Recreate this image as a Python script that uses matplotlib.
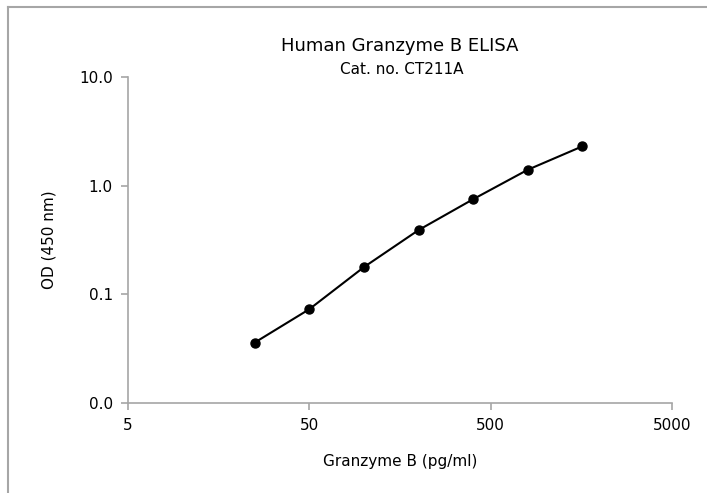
import matplotlib.pyplot as plt
from matplotlib.lines import Line2D
from matplotlib.ticker import FixedLocator, FixedFormatter, NullLocator

# standard curve values
conc = [25, 50, 100, 200, 400, 800, 1600]
od = [0.036, 0.073, 0.178, 0.39, 0.75, 1.40, 2.30]

xticks = [5, 50, 500, 5000]
xlabels = ['5', '50', '500', '5000']
yticks = [0.01, 0.1, 1, 10]
ylabels = ['0.0', '0.1', '1.0', '10.0']

plt.rcParams['font.family'] = ['DejaVu Sans']
grey = '#a6a6a6'

fig = plt.figure(figsize=(7.07, 4.93), dpi=100)
ax = fig.add_axes([128/707, 1-403/493, (672-128)/707, (403-77)/493])

ax.plot(conc, od, color='black', lw=1.5, marker='o', ms=6.5)

ax.set_xscale('log')
ax.set_yscale('log')
ax.set_xlim(5, 5000)
ax.set_ylim(0.01, 10)
ax.xaxis.set_major_locator(FixedLocator(xticks))
ax.xaxis.set_major_formatter(FixedFormatter(xlabels))
ax.yaxis.set_major_locator(FixedLocator(yticks))
ax.yaxis.set_major_formatter(FixedFormatter(ylabels))
ax.xaxis.set_minor_locator(NullLocator())
ax.yaxis.set_minor_locator(NullLocator())

for s in ['top', 'right']:
    ax.spines[s].set_visible(False)
for s in ['left', 'bottom']:
    ax.spines[s].set_color(grey)
    ax.spines[s].set_linewidth(1.2)
ax.tick_params(axis='both', direction='out', length=5, width=1.2, color=grey,
               labelsize=11, labelcolor='black', pad=6)

ax.set_xlabel('Granzyme B (pg/ml)', fontsize=11, labelpad=15)
ax.set_ylabel('OD (450 nm)', fontsize=11, labelpad=16)

fig.text(400/707, 1-46/493, 'Human Granzyme B ELISA', ha='center', va='center', fontsize=13)
fig.text(402/707, 1-70/493, 'Cat. no. CT211A', ha='center', va='center', fontsize=11)

# chart frame (left and top edges visible)
fig.add_artist(Line2D([8/707, 8/707], [0, 1-7/493], transform=fig.transFigure, color=grey, lw=1.5))
fig.add_artist(Line2D([8/707, 1], [1-7/493, 1-7/493], transform=fig.transFigure, color=grey, lw=1.5))

fig.savefig('out.png', dpi=100)
